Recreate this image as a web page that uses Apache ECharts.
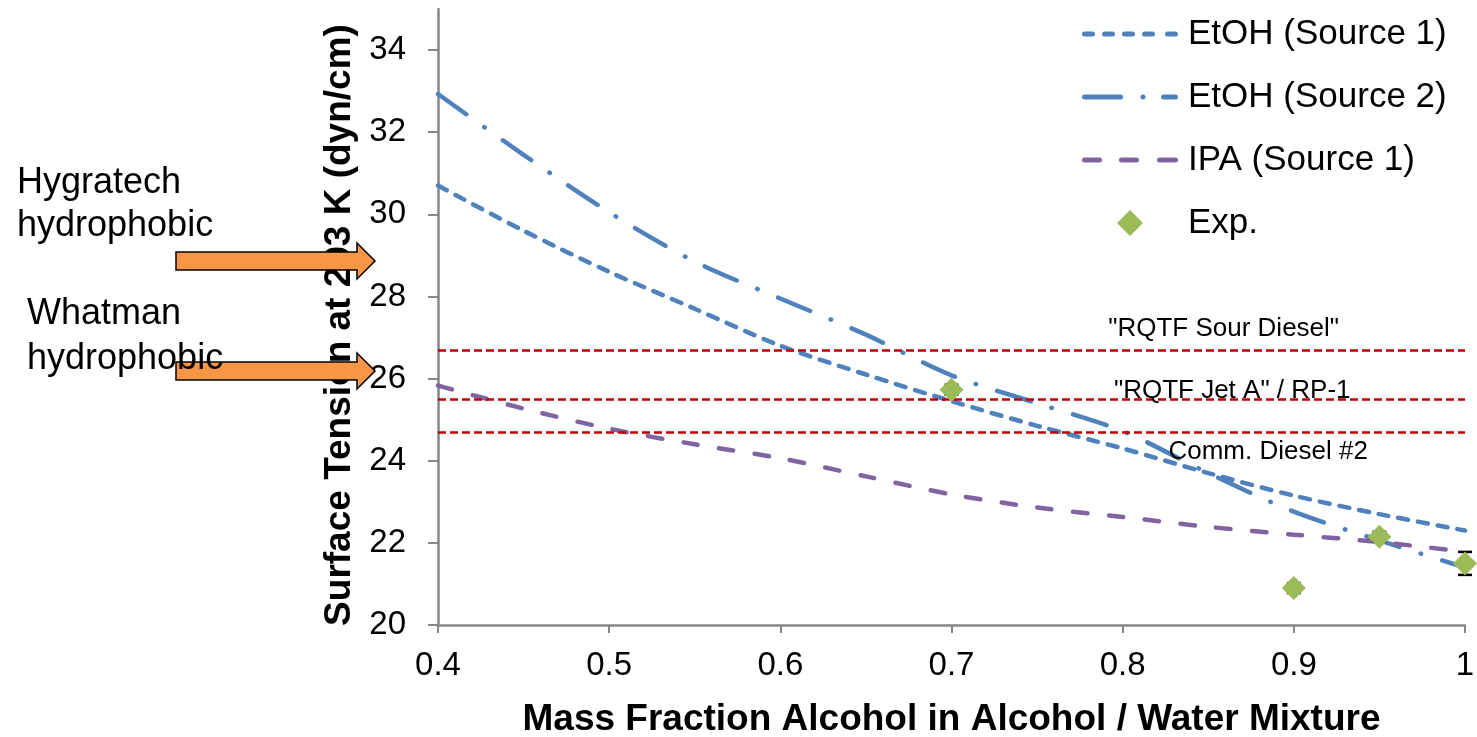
<!DOCTYPE html>
<html>
<head>
<meta charset="utf-8">
<script src="https://cdn.jsdelivr.net/npm/echarts@6/dist/echarts.min.js"></script>
<style>
html,body{margin:0;padding:0;background:#fff;}
#chart{width:1477px;height:737px;}
</style>
</head>
<body>
<div id="chart"></div>
<script>
// ---- data ----
const xFractions = [0.40, 0.45, 0.50, 0.55, 0.60, 0.65, 0.70, 0.75, 0.80, 0.85, 0.90, 0.95, 1.00];
const etohSource1 = [30.7, 29.6, 28.6, 27.7, 26.8, 26.1, 25.45, 24.85, 24.3, 23.7, 23.15, 22.7, 22.3];
const etohSource2 = [32.93, 31.45, 30.05, 28.85, 27.95, 27.07, 26.08, 25.4, 24.72, 23.7, 22.76, 22.06, 21.4];
const ipaSource1 = [25.83, 25.27, 24.78, 24.4, 24.06, 23.62, 23.18, 22.86, 22.63, 22.39, 22.2, 22.02, 21.78];
const expX = [0.70, 0.90, 0.95, 1.00];
const expY = [25.73, 20.9, 22.15, 21.5];
const expErr = [0.12, 0.12, 0.12, 0.28];
const fuelNames = ['"RQTF Sour Diesel"', '"RQTF Jet A" / RP-1', 'Comm. Diesel #2'];
const fuelTension = [26.7, 25.5, 24.7];
const fuelLabelX = [0.859, 0.864, 0.885];
const fuelLabelY = [27.2, 25.71, 24.22];
const yTicks = [20, 22, 24, 26, 28, 30, 32, 34];
const xTicks = [0.4, 0.5, 0.6, 0.7, 0.8, 0.9, 1.0];
const seriesNames = ['EtOH (Source 1)', 'EtOH (Source 2)', 'IPA (Source 1)', 'Exp.'];

const FONT = '"Liberation Sans", Arial, sans-serif';
const pair = (xs, ys) => xs.map((x, i) => [x, ys[i]]);

// legend icon helpers (96 x 26 box, anchored by two degenerate corner points)
function capsule(x1, x2) {
  const r = 2.5, t = 10.5, b = 15.5;
  return 'M' + (x1 + r) + ' ' + t + ' L' + (x2 - r) + ' ' + t +
    ' A' + r + ' ' + r + ' 0 0 1 ' + (x2 - r) + ' ' + b +
    ' L' + (x1 + r) + ' ' + b +
    ' A' + r + ' ' + r + ' 0 0 1 ' + (x1 + r) + ' ' + t + ' Z ';
}
function iconPath(segs) {
  return 'path://M0 0 L0 0 Z M96 26 L96 26 Z ' + segs.map(s => capsule(s[0], s[1])).join('');
}
const legendIcons = [
  iconPath([[0, 13], [20, 33], [40, 53], [60, 73], [83, 96]]),
  iconPath([[0, 41], [58.5, 63.5], [79, 96]]),
  iconPath([[0, 20], [37, 57], [75, 96]]),
  'path://M0 0 L0 0 Z M96 26 L96 26 Z M48 0 L61 13 L48 26 L35 13 Z'
];

const chart = echarts.init(document.getElementById('chart'));
const option = {
  animation: false,
  backgroundColor: '#ffffff',
  textStyle: { fontFamily: FONT },
  grid: { left: 438, right: 12, top: 9, bottom: 112, containLabel: false, outerBoundsMode: 'none' },
  legend: {
    data: seriesNames.map((n, i) => ({ name: n, icon: legendIcons[i] })),
    orient: 'vertical',
    left: 1082,
    top: 14,
    padding: 0,
    itemWidth: 96,
    itemHeight: 26,
    itemGap: 23,
    itemStyle: { borderWidth: 0 },
    textStyle: { fontFamily: FONT, fontSize: 35, color: '#000', lineHeight: 40, padding: [0, 0, 0, 5] }
  },
  xAxis: {
    type: 'value',
    min: 0.4, max: 1, interval: 0.1,
    name: 'Mass Fraction Alcohol in Alcohol / Water Mixture',
    nameLocation: 'middle',
    nameGap: 76,
    nameTextStyle: { fontFamily: FONT, fontSize: 37, fontWeight: 'bold', color: '#000' },
    axisLine: { show: true, lineStyle: { color: '#868686', width: 2.5 } },
    axisTick: { show: true, length: 8, lineStyle: { color: '#868686', width: 2 }, customValues: xTicks },
    axisLabel: { fontFamily: FONT, fontSize: 33, color: '#000', margin: 24, customValues: xTicks,
      formatter: v => String(Math.round(v * 10) / 10) },
    splitLine: { show: false }
  },
  yAxis: {
    type: 'value',
    min: 20, max: 35, interval: 1,
    name: 'Surface Tension at 293 K (dyn/cm)',
    nameLocation: 'middle',
    nameGap: 77,
    nameTextStyle: { fontFamily: FONT, fontSize: 37, fontWeight: 'bold', color: '#000', padding: [0, 16, 0, 0] },
    axisLine: { show: true, lineStyle: { color: '#868686', width: 2.5 } },
    axisTick: { show: true, length: 10, lineStyle: { color: '#868686', width: 2 }, customValues: yTicks },
    axisLabel: { fontFamily: FONT, fontSize: 33, color: '#000', margin: 32, customValues: yTicks },
    splitLine: { show: false }
  },
  series: [
    {
      name: 'reference fuels',
      type: 'line',
      data: [],
      z: 1,
      markLine: {
        silent: true,
        symbol: 'none',
        label: { show: false },
        lineStyle: { color: '#C00000', width: 2.5, type: [8, 4] },
        data: fuelTension.map(v => ({ yAxis: v }))
      },
      markPoint: {
        silent: true,
        symbol: 'circle',
        symbolSize: 0,
        label: { show: true, position: 'inside', fontFamily: FONT, fontSize: 26, color: '#000',
          formatter: p => p.name },
        data: fuelNames.map((n, i) => ({ name: n, coord: [fuelLabelX[i], fuelLabelY[i]] }))
      }
    },
    {
      name: seriesNames[0],
      type: 'line',
      data: pair(xFractions, etohSource1),
      smooth: 0.3,
      symbol: 'none',
      z: 3,
      lineStyle: { color: '#4F81BD', width: 4.5, type: [10, 10], cap: 'round' },
      itemStyle: { color: '#4F81BD' }
    },
    {
      name: seriesNames[1],
      type: 'line',
      data: pair(xFractions, etohSource2),
      smooth: 0.3,
      symbol: 'none',
      z: 3,
      lineStyle: { color: '#4F81BD', width: 4.5, type: [35, 22, 0.5, 22], cap: 'round' },
      itemStyle: { color: '#4F81BD' }
    },
    {
      name: seriesNames[2],
      type: 'line',
      data: pair(xFractions, ipaSource1),
      smooth: 0.3,
      symbol: 'none',
      z: 3,
      lineStyle: { color: '#8064A2', width: 4.5, type: [14.5, 21.5], cap: 'round' },
      itemStyle: { color: '#8064A2' }
    },
    {
      name: 'errbars',
      type: 'custom',
      z: 4,
      data: expX.map((x, i) => [x, expY[i] - expErr[i], expY[i] + expErr[i]]),
      renderItem: function (params, api) {
        const lo = api.coord([api.value(0), api.value(1)]);
        const hi = api.coord([api.value(0), api.value(2)]);
        const w = 7;
        const st = { stroke: '#000', lineWidth: 2.5 };
        return {
          type: 'group',
          children: [
            { type: 'line', shape: { x1: lo[0], y1: lo[1], x2: hi[0], y2: hi[1] }, style: st },
            { type: 'line', shape: { x1: lo[0] - w, y1: lo[1], x2: lo[0] + w, y2: lo[1] }, style: st },
            { type: 'line', shape: { x1: hi[0] - w, y1: hi[1], x2: hi[0] + w, y2: hi[1] }, style: st }
          ]
        };
      }
    },
    {
      name: seriesNames[3],
      type: 'scatter',
      data: pair(expX, expY),
      symbol: 'diamond',
      symbolSize: [24, 24],
      z: 5,
      itemStyle: { color: '#9BBB59', opacity: 1 }
    }
  ],
  graphic: [
    {
      type: 'polygon', z: 100,
      shape: { points: [[176, 252], [357, 252], [357, 243], [375, 261], [357, 279], [357, 270], [176, 270]] },
      style: { fill: '#F79646', stroke: '#000', lineWidth: 1.5 }
    },
    {
      type: 'polygon', z: 100,
      shape: { points: [[176, 362], [357, 362], [357, 353], [375, 371], [357, 389], [357, 380], [176, 380]] },
      style: { fill: '#F79646', stroke: '#000', lineWidth: 1.5 }
    },
    {
      type: 'text', z: 110, x: 17, y: 205,
      style: { text: 'Hygratech\nhydrophobic', fontFamily: FONT, fontSize: 36, lineHeight: 43,
        fill: '#000', verticalAlign: 'middle', align: 'left' }
    },
    {
      type: 'text', z: 110, x: 27, y: 337,
      style: { text: 'Whatman\nhydrophobic', fontFamily: FONT, fontSize: 36, lineHeight: 45,
        fill: '#000', verticalAlign: 'middle', align: 'left' }
    }
  ]
};
chart.setOption(option);
</script>
</body>
</html>
